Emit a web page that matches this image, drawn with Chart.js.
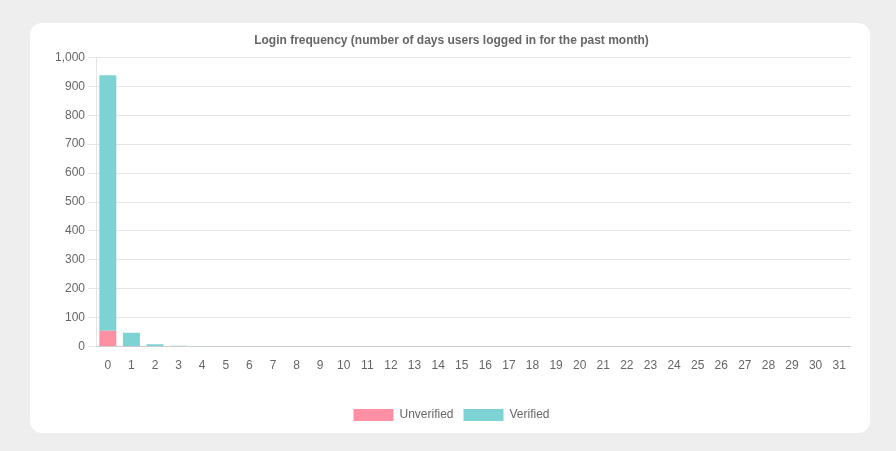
<!DOCTYPE html>
<html>
<head>
<meta charset="utf-8">
<script src="https://cdn.jsdelivr.net/npm/chart.js@4"></script>
<style>
  body { margin: 0; background: #eeeeee; font-family: "Liberation Sans", Arial, sans-serif; }
  .card { position: absolute; left: 30px; top: 23px; width: 840px; height: 410px; background: #fff; border-radius: 12px; }
  .wrap { position: absolute; left: 22px; top: 6px; right: 19px; bottom: 2px; }
</style>
</head>
<body>
<div class="card"><div class="wrap"><canvas id="loginChart"></canvas></div></div>
<script>
const days = Array.from({ length: 32 }, (_, i) => String(i));
const unverified = [55, 1, 0, 0, 0, 0, 0, 0, 0, 0, 0, 0, 0, 0, 0, 0, 0, 0, 0, 0, 0, 0, 0, 0, 0, 0, 0, 0, 0, 0, 0, 0];
const verified = [883, 47, 8, 3, 1, 0, 0, 0, 0, 0, 0, 0, 0, 0, 0, 0, 0, 0, 0, 0, 0, 0, 0, 0, 0, 0, 0, 0, 0, 0, 0, 0];

Chart.defaults.font.family = '"Liberation Sans", Arial, sans-serif';
Chart.defaults.color = "#666";

new Chart(document.getElementById("loginChart"), {
  type: "bar",
  data: {
    labels: days,
    datasets: [
      { label: "Unverified", data: unverified, backgroundColor: "#ff8fa3" },
      { label: "Verified", data: verified, backgroundColor: "#7dd3d3" }
    ]
  },
  options: {
    responsive: true,
    maintainAspectRatio: false,
    animation: false,
    plugins: {
      title: {
        display: true,
        text: "Login frequency (number of days users logged in for the past month)",
        font: { size: 12, weight: "bold" },
        padding: { top: 4, bottom: 10 }
      },
      legend: {
        position: "bottom",
        labels: { boxWidth: 40, boxHeight: 12, font: { size: 12 } }
      }
    },
    scales: {
      x: {
        stacked: true, grid: { display: false },
        ticks: { font: { size: 12 }, maxRotation: 0, padding: 4 },
        afterFit: (scale) => { scale.height += 22; }
      },
      y: {
        stacked: true, min: 0, max: 1000,
        ticks: { stepSize: 100, font: { size: 12 } },
        grid: { color: "#e5e5e5" }
      }
    }
  }
});
</script>
</body>
</html>
